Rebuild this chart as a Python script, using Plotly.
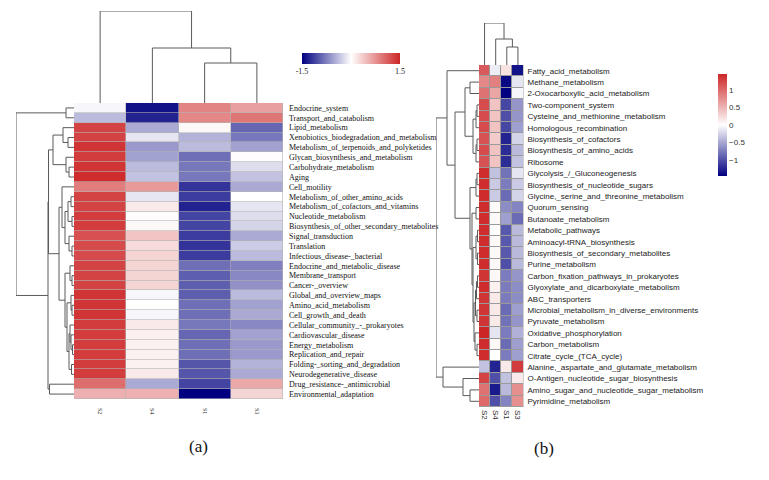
import numpy as np
import plotly.graph_objects as go

# ---------------- data ----------------
samples = ["S2", "S4", "S1", "S3"]

rows_a = ["Endocrine_system", "Transport_and_catabolism", "Lipid_metabolism",
          "Xenobiotics_biodegradation_and_metabolism", "Metabolism_of_terpenoids_and_polyketides",
          "Glycan_biosynthesis_and_metabolism", "Carbohydrate_metabolism", "Aging", "Cell_motility",
          "Metabolism_of_other_amino_acids", "Metabolism_of_cofactors_and_vitamins",
          "Nucleotide_metabolism", "Biosynthesis_of_other_secondary_metabolites",
          "Signal_transduction", "Translation", "Infectious_disease-_bacterial",
          "Endocrine_and_metabolic_disease", "Membrane_transport", "Cancer-_overview",
          "Global_and_overview_maps", "Amino_acid_metabolism", "Cell_growth_and_death",
          "Cellular_community_-_prokaryotes", "Cardiovascular_disease", "Energy_metabolism",
          "Replication_and_repair", "Folding-_sorting_and_degradation", "Neurodegenerative_disease",
          "Drug_resistance-_antimicrobial", "Environmental_adaptation"]

a_S2 = [-0.05, -0.4, 1.3, 1.3, 1.4, 1.35, 1.4, 1.45, 0.9, 1.3, 1.3, 1.35, 1.35, 1.2, 1.25,
        1.25, 1.3, 1.3, 1.3, 1.4, 1.4, 1.4, 1.35, 1.35, 1.35, 1.35, 1.35, 1.35, 1.0, 0.55]
a_S4 = [-1.4, -1.3, -0.5, -0.15, -0.6, -0.55, -0.4, -0.35, 0.7, -0.15, 0.15, 0.02, 0.05, 0.4, 0.25,
        0.3, 0.3, 0.3, 0.3, -0.05, 0.0, -0.05, 0.15, 0.1, 0.1, 0.1, 0.1, 0.15, -0.5, 0.55]
a_S1 = [0.85, 0.83, 0.05, -0.45, -0.4, -0.85, -0.8, -0.8, -1.2, -1.15, -1.3, -1.1, -1.1, -1.15, -1.2,
        -1.15, -0.85, -0.95, -0.95, -0.95, -0.85, -0.85, -0.8, -0.9, -0.85, -0.85, -1.0, -1.0, -1.1, -1.5]
a_S3 = [0.66, 0.95, -0.9, -0.8, -0.55, 0.02, -0.2, -0.35, -0.5, 0.0, -0.15, -0.2, -0.25, -0.5, -0.3,
        -0.4, -0.75, -0.7, -0.65, -0.4, -0.55, -0.5, -0.7, -0.55, -0.6, -0.6, -0.45, -0.5, 0.6, 0.3]

rows_b = ["Fatty_acid_metabolism", "Methane_metabolism", "2-Oxocarboxylic_acid_metabolism",
          "Two-component_system", "Cysteine_and_methionine_metabolism", "Homologous_recombination",
          "Biosynthesis_of_cofactors", "Biosynthesis_of_amino_acids", "Ribosome",
          "Glycolysis_/_Gluconeogenesis", "Biosynthesis_of_nucleotide_sugars",
          "Glycine,_serine_and_threonine_metabolism", "Quorum_sensing", "Butanoate_metabolism",
          "Metabolic_pathways", "Aminoacyl-tRNA_biosynthesis", "Biosynthesis_of_secondary_metabolites",
          "Purine_metabolism", "Carbon_fixation_pathways_in_prokaryotes",
          "Glyoxylate_and_dicarboxylate_metabolism", "ABC_transporters",
          "Microbial_metabolism_in_diverse_environments", "Pyruvate_metabolism",
          "Oxidative_phosphorylation", "Carbon_metabolism", "Citrate_cycle_(TCA_cycle)",
          "Alanine,_aspartate_and_glutamate_metabolism", "O-Antigen_nucleotide_sugar_biosynthesis",
          "Amino_sugar_and_nucleotide_sugar_metabolism", "Pyrimidine_metabolism"]

b_S2 = [1.1, 0.8, 0.95, 1.2, 1.2, 1.2, 1.15, 1.2, 1.15, 1.4, 1.4, 1.4, 1.4, 1.4, 1.4,
        1.4, 1.4, 1.4, 1.35, 1.4, 1.35, 1.35, 1.35, 1.45, 1.4, 1.4, -0.35, 1.25, 0.95, 1.0]
b_S4 = [-0.1, 0.85, 0.6, 0.4, 0.4, 0.4, 0.35, 0.4, 0.4, -0.35, -0.3, -0.3, 0.03, 0.04, 0.02,
        0.04, 0.05, 0.05, 0.05, 0.1, 0.15, 0.15, 0.15, -0.15, 0.05, 0.0, -1.25, -1.0, -1.3, -1.0]
b_S1 = [0.2, -1.4, -1.45, -1.05, -1.0, -1.05, -1.25, -1.2, -1.2, -0.8, -0.75, -0.85, -0.65, -0.55, -0.95,
        -0.95, -0.95, -1.0, -0.75, -0.75, -0.75, -0.85, -0.8, -0.75, -0.85, -0.75, 0.15, -0.35, -0.4, -0.7]
b_S3 = [-1.35, -0.15, -0.05, -0.6, -0.6, -0.55, -0.25, -0.4, -0.35, -0.15, -0.3, -0.25, -0.7, -0.85, -0.4,
        -0.4, -0.4, -0.4, -0.6, -0.65, -0.65, -0.55, -0.6, -0.45, -0.55, -0.55, 1.3, 0.15, 0.75, 0.75]

# hierarchical clustering merges: [child_a, child_b, height]; leaves = display order,
# merged nodes numbered from n_leaves upward
link_rows_a = [[0, 1, 8], [3, 4, 6], [2, 31, 11], [6, 7, 5], [5, 33, 8], [32, 34, 21],
               [9, 10, 3], [11, 12, 2], [36, 37, 6], [14, 15, 2], [13, 39, 5], [38, 40, 9],
               [8, 41, 12], [17, 18, 2], [16, 43, 4], [20, 21, 2], [19, 45, 3], [24, 25, 1.5],
               [23, 47, 3], [22, 48, 4], [26, 27, 2.5], [49, 50, 5], [46, 51, 7], [44, 52, 9],
               [42, 53, 15], [28, 29, 24.5], [35, 54, 25.5], [56, 55, 26], [30, 57, 58]]
link_cols_a = [[2, 3, 40], [1, 4, 55], [0, 5, 92]]

link_rows_b = [[1, 2, 9], [3, 4, 2], [31, 5, 3], [6, 7, 2], [33, 8, 3], [32, 34, 6], [30, 35, 14],
               [9, 10, 2], [37, 11, 3], [12, 13, 3], [14, 15, 1.5], [16, 17, 1.5], [40, 41, 3],
               [18, 19, 1.5], [43, 20, 2.5], [21, 22, 2], [44, 45, 3.5], [24, 25, 2], [23, 47, 4],
               [46, 48, 5], [42, 49, 6], [39, 50, 7], [38, 51, 9], [36, 52, 24], [0, 53, 32],
               [28, 29, 9], [27, 55, 16], [26, 56, 36], [54, 57, 43]]
link_cols_b = [[2, 3, 18], [1, 4, 26], [0, 5, 42]]


# ---------------- helpers ----------------
def dendro(n, links):
    pos = [float(i) for i in range(n)]
    hgt = [0.0] * n
    p, h = [], []
    for a, b, hh in links:
        p += [pos[a], pos[a], pos[b], pos[b], None]
        h += [hgt[a], hh, hh, hgt[b], None]
        pos.append((pos[a] + pos[b]) / 2)
        hgt.append(hh)
    return p, h


W, H = 769, 480
fx = lambda px: px / W
fy = lambda py: 1 - py / H

cs = [[0, "rgb(0,0,128)"], [0.5, "rgb(255,255,255)"], [1, "rgb(205,38,38)"]]
serif = "Liberation Serif"
sans = "Liberation Sans"
lc = "#5a5a5a"

za = np.column_stack([a_S2, a_S4, a_S1, a_S3])
zb = np.column_stack([b_S2, b_S4, b_S1, b_S3])
na, nb = len(rows_a), len(rows_b)

fig = go.Figure()

# heatmap (a)
fig.add_trace(go.Heatmap(
    z=za, x=list(range(4)), y=list(range(na)), colorscale=cs, zmin=-1.5, zmax=1.5,
    xgap=0.6, ygap=0.6, xaxis="x", yaxis="y", hoverinfo="skip",
    colorbar=dict(orientation="h", x=fx(351), xanchor="center", y=fy(62.5), yanchor="middle",
                  len=118, lenmode="pixels", thickness=11, thicknessmode="pixels",
                  tickvals=[-1.5, 1.5], ticktext=["-1.5", "1.5"], ticks="",
                  tickfont=dict(family=serif, size=8, color="#222"), outlinewidth=0),
))

# heatmap (b)
fig.add_trace(go.Heatmap(
    z=zb, x=list(range(4)), y=list(range(nb)), colorscale=cs, zmin=-1.45, zmax=1.45,
    xgap=1, ygap=1, xaxis="x4", yaxis="y4", hoverinfo="skip",
    colorbar=dict(orientation="v", x=fx(708), xanchor="left", y=fy(125), yanchor="middle",
                  len=122, lenmode="pixels", thickness=9, thicknessmode="pixels",
                  tickvals=[-1, -0.5, 0, 0.5, 1], ticktext=["\u22121", "\u22120.5", "0", "0.5", "1"],
                  ticks="", tickfont=dict(family=sans, size=8, color="#333"), outlinewidth=0),
))

# dendrograms
p, h = dendro(na, link_rows_a)
fig.add_trace(go.Scatter(x=h, y=p, mode="lines", line=dict(color=lc, width=1),
                         xaxis="x2", yaxis="y2", hoverinfo="skip", showlegend=False))
p, h = dendro(4, link_cols_a)
fig.add_trace(go.Scatter(x=p, y=h, mode="lines", line=dict(color=lc, width=1),
                         xaxis="x3", yaxis="y3", hoverinfo="skip", showlegend=False))
p, h = dendro(nb, link_rows_b)
fig.add_trace(go.Scatter(x=h, y=p, mode="lines", line=dict(color=lc, width=1),
                         xaxis="x5", yaxis="y5", hoverinfo="skip", showlegend=False))
p, h = dendro(4, link_cols_b)
fig.add_trace(go.Scatter(x=p, y=h, mode="lines", line=dict(color=lc, width=1),
                         xaxis="x6", yaxis="y6", hoverinfo="skip", showlegend=False))

hidden = dict(visible=False, showgrid=False, zeroline=False, fixedrange=True)

# panel (a) geometry
ax_l, ax_r, ay_t, ay_b = 74, 283, 103, 399
# panel (b) geometry
bx_l, bx_r, by_t, by_b = 479, 523.5, 65, 407

fig.update_layout(
    width=W, height=H, margin=dict(l=0, r=0, t=0, b=0),
    paper_bgcolor="white", plot_bgcolor="white", showlegend=False,
    xaxis=dict(domain=[fx(ax_l), fx(ax_r)], range=[-0.5, 3.5], anchor="y",
               tickvals=list(range(4)), ticktext=samples, tickangle=90, ticks="",
               ticklabelstandoff=8, tickfont=dict(family=serif, size=6, color="#222"),
               showgrid=False, zeroline=False, showline=False),
    yaxis=dict(domain=[fy(ay_b), fy(ay_t)], range=[na - 0.5, -0.5], anchor="x", side="right",
               tickvals=list(range(na)), ticktext=rows_a, ticks="", ticklabelstandoff=5,
               tickfont=dict(family=serif, size=8, color="#111"),
               showgrid=False, zeroline=False, showline=False),
    xaxis2=dict(domain=[fx(16), fx(ax_l)], range=[58, 0], anchor="y2", **hidden),
    yaxis2=dict(domain=[fy(ay_b), fy(ay_t)], range=[na - 0.5, -0.5], anchor="x2", **hidden),
    xaxis3=dict(domain=[fx(ax_l), fx(ax_r)], range=[-0.5, 3.5], anchor="y3", **hidden),
    yaxis3=dict(domain=[fy(ay_t), fy(ay_t - 92)], range=[0, 92], anchor="x3", **hidden),
    xaxis4=dict(domain=[fx(bx_l), fx(bx_r)], range=[-0.5, 3.5], anchor="y4",
                tickvals=list(range(4)), ticktext=samples, tickangle=90, ticks="",
                ticklabelstandoff=2, tickfont=dict(family=sans, size=8, color="#333"),
                showgrid=False, zeroline=False, showline=False),
    yaxis4=dict(domain=[fy(by_b), fy(by_t)], range=[nb - 0.5, -0.5], anchor="x4", side="right",
                tickvals=list(range(nb)), ticktext=rows_b, ticks="", ticklabelstandoff=3,
                tickfont=dict(family=sans, size=8, color="#222"),
                showgrid=False, zeroline=False, showline=False),
    xaxis5=dict(domain=[fx(436), fx(bx_l)], range=[43, 0], anchor="y5", **hidden),
    yaxis5=dict(domain=[fy(by_b), fy(by_t)], range=[nb - 0.5, -0.5], anchor="x5", **hidden),
    xaxis6=dict(domain=[fx(bx_l), fx(bx_r)], range=[-0.5, 3.5], anchor="y6", **hidden),
    yaxis6=dict(domain=[fy(by_t), fy(by_t - 42)], range=[0, 42], anchor="x6", **hidden),
    shapes=[
        dict(type="rect", xref="x", yref="y", x0=-0.5, x1=3.5, y0=-0.5, y1=na - 0.5,
             fillcolor="#b4b4b4", line=dict(width=0), layer="below"),
        dict(type="rect", xref="x4", yref="y4", x0=-0.5, x1=3.5, y0=-0.5, y1=nb - 0.5,
             fillcolor="#9a9a9a", line=dict(width=0.6, color="#9a9a9a"), layer="below"),
    ],
    annotations=[
        dict(text="(a)", x=fx(187), y=fy(458), xref="paper", yref="paper", showarrow=False,
             font=dict(family=serif, size=17, color="#111")),
        dict(text="(b)", x=fx(556), y=fy(460), xref="paper", yref="paper", showarrow=False,
             font=dict(family=serif, size=17, color="#111")),
    ],
)

fig.write_html("out.html", config={"displayModeBar": False},
               post_script="document.body.style.margin='0';document.body.style.overflow='hidden';")
